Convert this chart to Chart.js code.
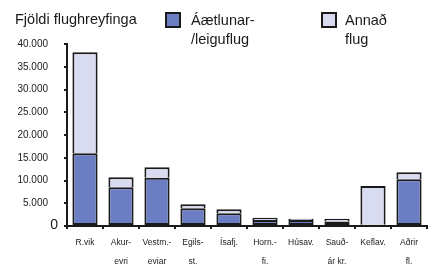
<!DOCTYPE html>
<html>
<head>
<meta charset="utf-8">
<script src="https://cdn.jsdelivr.net/npm/chart.js@4"></script>
<style>
  html, body { margin:0; padding:0; background:#fff; }
  #wrap { position:relative; width:437px; height:264px; overflow:hidden; font-family:"Liberation Sans", Arial, sans-serif; color:#1a1a1a; }
  canvas { position:absolute; left:0; top:0; }
  .title { position:absolute; left:15px; top:11px; font-size:14.5px; }
  .leg { position:absolute; font-size:14.5px; line-height:19px; }
  .box { position:absolute; top:12px; width:12px; height:12px; border:2px solid #1a1a1a; }
</style>
</head>
<body>
<div id="wrap">
  <canvas id="chart" width="437" height="264"></canvas>
  <div class="title">Fjöldi flughreyfinga</div>
  <div class="box" style="left:165px; background:#6c7ec3"></div>
  <div class="leg" style="left:191px; top:11px">Áætlunar-<br>/leiguflug</div>
  <div class="box" style="left:321px; background:#d9dcf0"></div>
  <div class="leg" style="left:345px; top:11px">Annað<br>flug</div>
</div>
<script>
// airports
const categories = [
  'R.vik', ['Akur-','eyri'], ['Vestm.-','eyjar'], ['Egils-','st.'], 'Ísafj.',
  ['Horn.-','fj.'], 'Húsav.', ['Sauð-','ár kr.'], 'Keflav.', ['Aðrir','fl.']
];
// scheduled / charter flights
const scheduled = [16000, 8500, 10600, 3900, 2800, 1300, 1300, 1000, 300, 10300];
// other flights
const other = [22200, 2200, 2300, 900, 900, 500, 300, 600, 8500, 1500];
const yTicks = [0, 5000, 10000, 15000, 20000, 25000, 30000, 35000, 40000];

const BLUE = '#6c7ec3';
const LIGHT = '#d9dcf0';
const INK = '#1a1a1a';

function fmt(v) {
  return String(v).replace(/\B(?=(\d{3})+(?!\d))/g, '.');
}

// draws the big "0" at the origin, like the original
const zeroLabel = {
  id: 'zeroLabel',
  afterDraw(chart) {
    const ctx = chart.ctx;
    const y = chart.scales.y.getPixelForValue(0);
    ctx.save();
    ctx.font = '14px "Liberation Sans", Arial, sans-serif';
    ctx.fillStyle = INK;
    ctx.textAlign = 'right';
    ctx.textBaseline = 'middle';
    ctx.fillText('0', chart.chartArea.left - 9, y - 1);
    ctx.restore();
  }
};

new Chart(document.getElementById('chart'), {
  type: 'bar',
  data: {
    labels: categories,
    datasets: [
      { label: 'Áætlunar-/leiguflug', data: scheduled, backgroundColor: BLUE,
        borderColor: INK, borderWidth: 2, borderSkipped: false },
      { label: 'Annað flug', data: other, backgroundColor: LIGHT,
        borderColor: INK, borderWidth: 2, borderSkipped: 'bottom' }
    ]
  },
  options: {
    responsive: false,
    animation: false,
    layout: { padding: { top: 44, right: 10, left: 0, bottom: 0 } },
    plugins: { legend: { display: false }, tooltip: { enabled: false } },
    datasets: { bar: { categoryPercentage: 1, barPercentage: 0.7 } },
    scales: {
      x: {
        stacked: true,
        afterFit(scale) { scale.height = 38; },
        grid: { offset: true, drawOnChartArea: false, tickLength: 3, color: INK, lineWidth: 2 },
        border: { color: INK, width: 2 },
        ticks: { color: INK, padding: 5, maxRotation: 0, autoSkip: false,
          font: { family: '"Liberation Sans", Arial, sans-serif', size: 8.5, lineHeight: 2.15 } }
      },
      y: {
        stacked: true,
        min: 0, max: 40000,
        afterFit(scale) { scale.width = 67; },
        afterBuildTicks(scale) { scale.ticks = yTicks.map(v => ({ value: v })); },
        grid: { drawOnChartArea: false, tickLength: 3, color: INK, lineWidth: 2 },
        border: { color: INK, width: 2 },
        ticks: { color: INK, padding: 16,
          font: { family: '"Liberation Sans", Arial, sans-serif', size: 10 },
          callback: v => v === 0 ? '' : fmt(v) }
      }
    }
  },
  plugins: [zeroLabel]
});
</script>
</body>
</html>
